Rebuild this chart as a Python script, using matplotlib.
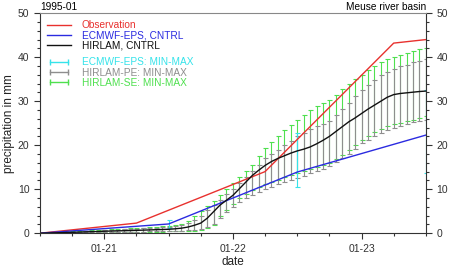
import numpy as np
import pandas as pd
import matplotlib
matplotlib.use("Agg")
import matplotlib.pyplot as plt
import matplotlib.dates as mdates
from matplotlib.lines import Line2D
from matplotlib.ticker import MultipleLocator

plt.rcParams['font.family'] = ['Liberation Sans', 'DejaVu Sans']

# observation (daily at 06 UTC)
obs_time = pd.to_datetime(["1995-01-20 12:00", "1995-01-21 06:00", "1995-01-22 06:00",
                           "1995-01-23 06:00", "1995-01-23 12:00"])
obs_val = [0.0, 2.3, 14.0, 43.2, 44.0]

# ECMWF-EPS control run and ensemble range
ec_time = pd.to_datetime(["1995-01-20 12:00", "1995-01-21 12:00", "1995-01-22 12:00",
                          "1995-01-23 12:00"])
ec_cntrl = [0.0, 2.1, 13.9, 22.3]
ec_min = [0.0, 1.2, 10.5, 13.6]
ec_max = [0.0, 2.9, 22.7, 32.5]

# HIRLAM runs
hl_time = pd.date_range("1995-01-20 12:00", periods=61, freq="72min")
hl_cntrl = [0, 0.04, 0.08, 0.12, 0.16, 0.2, 0.25, 0.3, 0.35, 0.4,
            0.45, 0.49, 0.53, 0.57, 0.61, 0.65, 0.7, 0.75, 0.8, 0.85,
            0.9, 1.0, 1.15, 1.4, 1.8, 2.3, 3.4, 4.9, 6.4, 7.5,
            8.6, 10.1, 11.6, 13.1, 14.3, 15.4, 16.3, 17.0, 17.6, 18.2,
            18.7, 19.1, 19.6, 20.3, 21.1, 22.0, 23.1, 24.2, 25.3, 26.2,
            27.2, 28.2, 29.1, 30.0, 30.9, 31.5, 31.75, 31.9, 32.05, 32.2,
            32.3]
se_max = [0, 0.08, 0.16, 0.24, 0.32, 0.4, 0.48, 0.56, 0.64, 0.72,
          0.8, 0.88, 0.96, 1.04, 1.12, 1.2, 1.3, 1.4, 1.5, 1.6,
          1.7, 1.9, 2.2, 2.8, 3.8, 5.0, 6.2, 7.4, 8.6, 10.0,
          11.3, 12.7, 14.1, 15.6, 17.6, 19.4, 20.7, 22.1, 23.4, 24.6,
          25.8, 26.9, 28.0, 28.9, 29.6, 30.3, 31.5, 32.8, 34.0, 35.0,
          35.9, 37.0, 38.1, 39.0, 39.6, 40.1, 40.6, 41.0, 41.5, 41.9,
          42.2]
se_min = [0, 0.02, 0.04, 0.06, 0.08, 0.1, 0.12, 0.14, 0.16, 0.18,
          0.2, 0.22, 0.24, 0.26, 0.28, 0.3, 0.32, 0.34, 0.36, 0.38,
          0.4, 0.43, 0.47, 0.52, 0.6, 0.7, 1.1, 1.8, 3.8, 5.3,
          6.7, 7.9, 8.9, 9.8, 10.5, 11.2, 11.7, 12.2, 12.7, 13.2,
          13.7, 14.1, 14.6, 15.1, 15.5, 16.0, 16.9, 17.8, 18.8, 20.0,
          21.2, 22.1, 23.0, 23.7, 24.3, 24.8, 25.1, 25.4, 25.8, 26.2,
          26.6]
pe_max = [0, 0.06, 0.12, 0.18, 0.24, 0.3, 0.37, 0.44, 0.51, 0.6,
          0.7, 0.76, 0.82, 0.88, 0.94, 1.0, 1.08, 1.16, 1.24, 1.32,
          1.4, 1.6, 1.9, 2.4, 3.1, 4.0, 5.2, 6.4, 7.6, 8.8,
          10.0, 11.4, 12.8, 14.2, 15.6, 17.0, 18.0, 19.0, 20.0, 21.0,
          22.0, 22.8, 23.6, 24.3, 24.9, 25.5, 26.8, 28.2, 29.7, 31.1,
          32.5, 33.7, 34.9, 35.9, 36.7, 37.4, 37.9, 38.3, 38.8, 39.2,
          39.6]
pe_min = [0, 0.02, 0.05, 0.07, 0.1, 0.12, 0.15, 0.17, 0.2, 0.22,
          0.25, 0.27, 0.29, 0.31, 0.33, 0.35, 0.38, 0.41, 0.44, 0.47,
          0.5, 0.53, 0.57, 0.62, 0.72, 0.9, 1.4, 2.2, 3.4, 4.8,
          6.0, 7.0, 7.9, 8.7, 9.4, 10.0, 10.6, 11.1, 11.6, 12.1,
          12.6, 13.1, 13.6, 14.1, 14.6, 15.2, 16.1, 17.0, 18.0, 19.2,
          20.4, 21.2, 22.0, 22.8, 23.4, 24.0, 24.4, 24.8, 25.2, 25.5,
          25.8]

c_obs = '#e8312e'
c_ec = '#2b2be0'
c_hl = '#111111'
c_ecr = '#35e3ea'
c_pe = '#8e8e8e'
c_se = '#4fe04f'

fig = plt.figure(figsize=(4.54, 2.69), dpi=100)
ax = fig.add_axes([0.088, 0.133, 0.850, 0.818])

def bars(t, lo, hi, mid, color, cap):
    lo = np.array(lo); hi = np.array(hi); mid = np.array(mid)
    ax.errorbar(t, mid, yerr=[mid - lo, hi - mid], fmt='none', ecolor=color,
                elinewidth=0.8, capsize=cap, capthick=0.8)

se_mid = (np.array(se_min) + np.array(se_max)) / 2
pe_mid = (np.array(pe_min) + np.array(pe_max)) / 2
bars(hl_time, se_min, se_max, se_mid, c_se, 1.8)
bars(hl_time, pe_min, pe_max, pe_mid, c_pe, 1.8)
ec_mid = (np.array(ec_min) + np.array(ec_max)) / 2
bars(ec_time, ec_min, ec_max, ec_mid, c_ecr, 1.8)

ax.plot(obs_time, obs_val, color=c_obs, lw=1.0)
ax.plot(ec_time, ec_cntrl, color=c_ec, lw=1.0)
ax.plot(hl_time, hl_cntrl, color=c_hl, lw=1.0)

ax.set_xlim(pd.Timestamp("1995-01-20 12:00"), pd.Timestamp("1995-01-23 12:00"))
ax.set_ylim(0, 50)
ax.xaxis.set_major_locator(mdates.DayLocator())
ax.xaxis.set_major_formatter(mdates.DateFormatter('%m-%d'))
ax.xaxis.set_minor_locator(mdates.HourLocator(byhour=[0, 6, 12, 18]))
ax.yaxis.set_major_locator(MultipleLocator(10))
ax.yaxis.set_minor_locator(MultipleLocator(2))
ax.tick_params(axis='both', which='both', direction='out', labelsize=7.5,
               colors='#333333', width=0.8)
ax.tick_params(axis='y', which='both', right=True, labelright=True)
ax.tick_params(which='major', length=4)
ax.tick_params(which='minor', length=2)
ax.tick_params(axis='x', top=False, pad=4)
for s in ['left', 'bottom', 'right']:
    ax.spines[s].set_color('#333333')
    ax.spines[s].set_linewidth(0.8)
ax.spines['top'].set_color('#888888')
ax.spines['top'].set_linewidth(0.8)

ax.set_xlabel('date', fontsize=8.5, color='#222222', labelpad=1)
ax.set_ylabel('precipitation in mm', fontsize=8.5, color='#222222', labelpad=2)
ax.text(0.0, 1.005, '1995-01', transform=ax.transAxes, fontsize=7.3, ha='left', va='bottom')
ax.text(1.0, 1.005, 'Meuse river basin', transform=ax.transAxes, fontsize=7.3,
        ha='right', va='bottom')

h1 = [Line2D([], [], color=c_obs, lw=1.0),
      Line2D([], [], color=c_ec, lw=1.0),
      Line2D([], [], color=c_hl, lw=1.0)]
l1 = ['Observation', 'ECMWF-EPS, CNTRL', 'HIRLAM, CNTRL']
leg1 = ax.legend(h1, l1, loc='upper left', bbox_to_anchor=(0.0, 1.0), frameon=False,
                 fontsize=7.3, handlelength=2.4, handletextpad=1.0,
                 labelspacing=0.03, borderaxespad=0.3)
for txt, c in zip(leg1.get_texts(), [c_obs, c_ec, c_hl]):
    txt.set_color(c)
ax.add_artist(leg1)

h2 = [Line2D([], [], color=c_ecr, lw=1.0, marker='|', ms=4, mew=1.0),
      Line2D([], [], color=c_pe, lw=1.0, marker='|', ms=4, mew=1.0),
      Line2D([], [], color=c_se, lw=1.0, marker='|', ms=4, mew=1.0)]
l2 = ['ECMWF-EPS: MIN-MAX', 'HIRLAM-PE: MIN-MAX', 'HIRLAM-SE: MIN-MAX']
leg2 = ax.legend(h2, l2, loc='upper left', bbox_to_anchor=(0.0, 0.832), frameon=False,
                 fontsize=7.3, handlelength=2.4, handletextpad=1.0, numpoints=2,
                 labelspacing=0.03, borderaxespad=0.3)
for txt, c in zip(leg2.get_texts(), [c_ecr, c_pe, c_se]):
    txt.set_color(c)

fig.savefig('out.png', dpi=100)
